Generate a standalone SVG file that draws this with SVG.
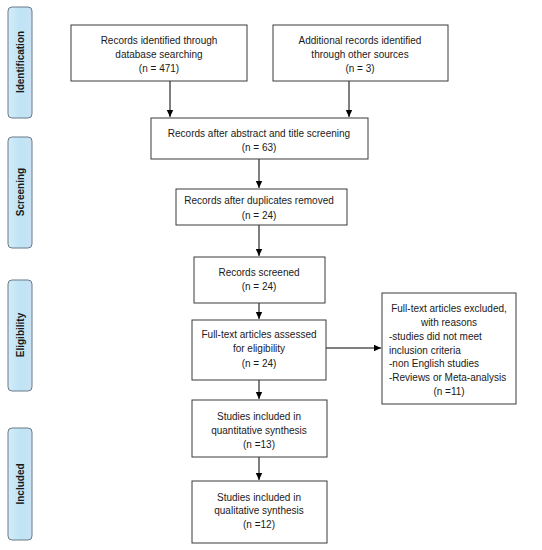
<svg xmlns="http://www.w3.org/2000/svg" width="542" height="550" viewBox="0 0 542 550">
<defs>
<linearGradient id="bar" x1="0" y1="0" x2="1" y2="0">
<stop offset="0" stop-color="#d3ecf8"/>
<stop offset="0.5" stop-color="#bfe4f6"/>
<stop offset="1" stop-color="#c9e2f4"/>
</linearGradient>
<marker id="ah" markerWidth="8" markerHeight="8" refX="7" refY="4" orient="auto" markerUnits="userSpaceOnUse">
<path d="M0,0.8 L7,4 L0,7.2 Z" fill="#000"/>
</marker>
<style>
.box{fill:#fff;stroke:#3a3a3a;stroke-width:1}
.bar{fill:url(#bar);stroke:#6b7b88;stroke-width:1}
text{font-family:"Liberation Sans",Arial,sans-serif;font-size:10px;fill:#1a1a1a}
.c{text-anchor:middle}
.lab{font-weight:bold;font-size:10px;text-anchor:middle}
.con{stroke:#000;stroke-width:1;fill:none;marker-end:url(#ah)}
</style>
</defs>
<rect width="542" height="550" fill="#fff"/>
<g id="bar-identification"><rect class="bar" x="8" y="7" width="24" height="111" rx="4"/><text class="lab" transform="translate(24,62) rotate(-90)">Identification</text></g>
<g id="bar-screening"><rect class="bar" x="8" y="137" width="24" height="111" rx="4"/><text class="lab" transform="translate(24,192) rotate(-90)">Screening</text></g>
<g id="bar-eligibility"><rect class="bar" x="8" y="280" width="24" height="111" rx="4"/><text class="lab" transform="translate(24,335) rotate(-90)">Eligibility</text></g>
<g id="bar-included"><rect class="bar" x="8" y="428" width="24" height="112" rx="4"/><text class="lab" transform="translate(24,484) rotate(-90)">Included</text></g>

<g id="connectors">
<path class="con" d="M170,81 V117"/>
<path class="con" d="M349,81 V117"/>
<path class="con" d="M259,159 V188"/>
<path class="con" d="M259,225 V256"/>
<path class="con" d="M259,303 V319"/>
<path class="con" d="M326,348 H381"/>
<path class="con" d="M259,380 V399"/>
<path class="con" d="M259,457 V480"/>
</g>

<g id="n1"><rect class="box" x="71" y="25" width="176" height="56"/>
<text class="c" x="159" y="44">Records identified through</text>
<text class="c" x="159" y="58">database searching</text>
<text class="c" x="159" y="72">(n = 471)</text></g>
<g id="n2"><rect class="box" x="273" y="25" width="175" height="56"/>
<text class="c" x="360" y="44">Additional records identified</text>
<text class="c" x="360" y="58">through other sources</text>
<text class="c" x="360" y="72">(n = 3)</text></g>
<g id="n3"><rect class="box" x="151" y="118" width="217" height="41"/>
<text class="c" x="259" y="137">Records after abstract and title screening</text>
<text class="c" x="259" y="151">(n = 63)</text></g>
<g id="n4"><rect class="box" x="176" y="189" width="171" height="36"/>
<text class="c" x="259" y="204">Records after duplicates removed</text>
<text class="c" x="259" y="219">(n = 24)</text></g>
<g id="n5"><rect class="box" x="194" y="257" width="131" height="46"/>
<text class="c" x="259" y="276">Records screened</text>
<text class="c" x="259" y="290">(n = 24)</text></g>
<g id="n6"><rect class="box" x="192" y="320" width="134" height="60"/>
<text class="c" x="259" y="338">Full-text articles assessed</text>
<text class="c" x="259" y="352">for eligibility</text>
<text class="c" x="259" y="367">(n = 24)</text></g>
<g id="n7"><rect class="box" x="382" y="293" width="134" height="111"/>
<text class="c" x="449" y="312">Full-text articles excluded,</text>
<text class="c" x="449" y="326">with reasons</text>
<text x="389" y="340">-studies did not meet</text>
<text x="389" y="354">inclusion criteria</text>
<text x="389" y="367">-non English studies</text>
<text x="389" y="381">-Reviews or Meta-analysis</text>
<text class="c" x="449" y="395">(n =11)</text></g>
<g id="n8"><rect class="box" x="192" y="400" width="135" height="57"/>
<text class="c" x="259" y="420">Studies included in</text>
<text class="c" x="259" y="434">quantitative synthesis</text>
<text class="c" x="259" y="448">(n =13)</text></g>
<g id="n9"><rect class="box" x="192" y="481" width="135" height="62"/>
<text class="c" x="259" y="501">Studies included in</text>
<text class="c" x="259" y="514">qualitative synthesis</text>
<text class="c" x="259" y="528">(n =12)</text></g>
</svg>
